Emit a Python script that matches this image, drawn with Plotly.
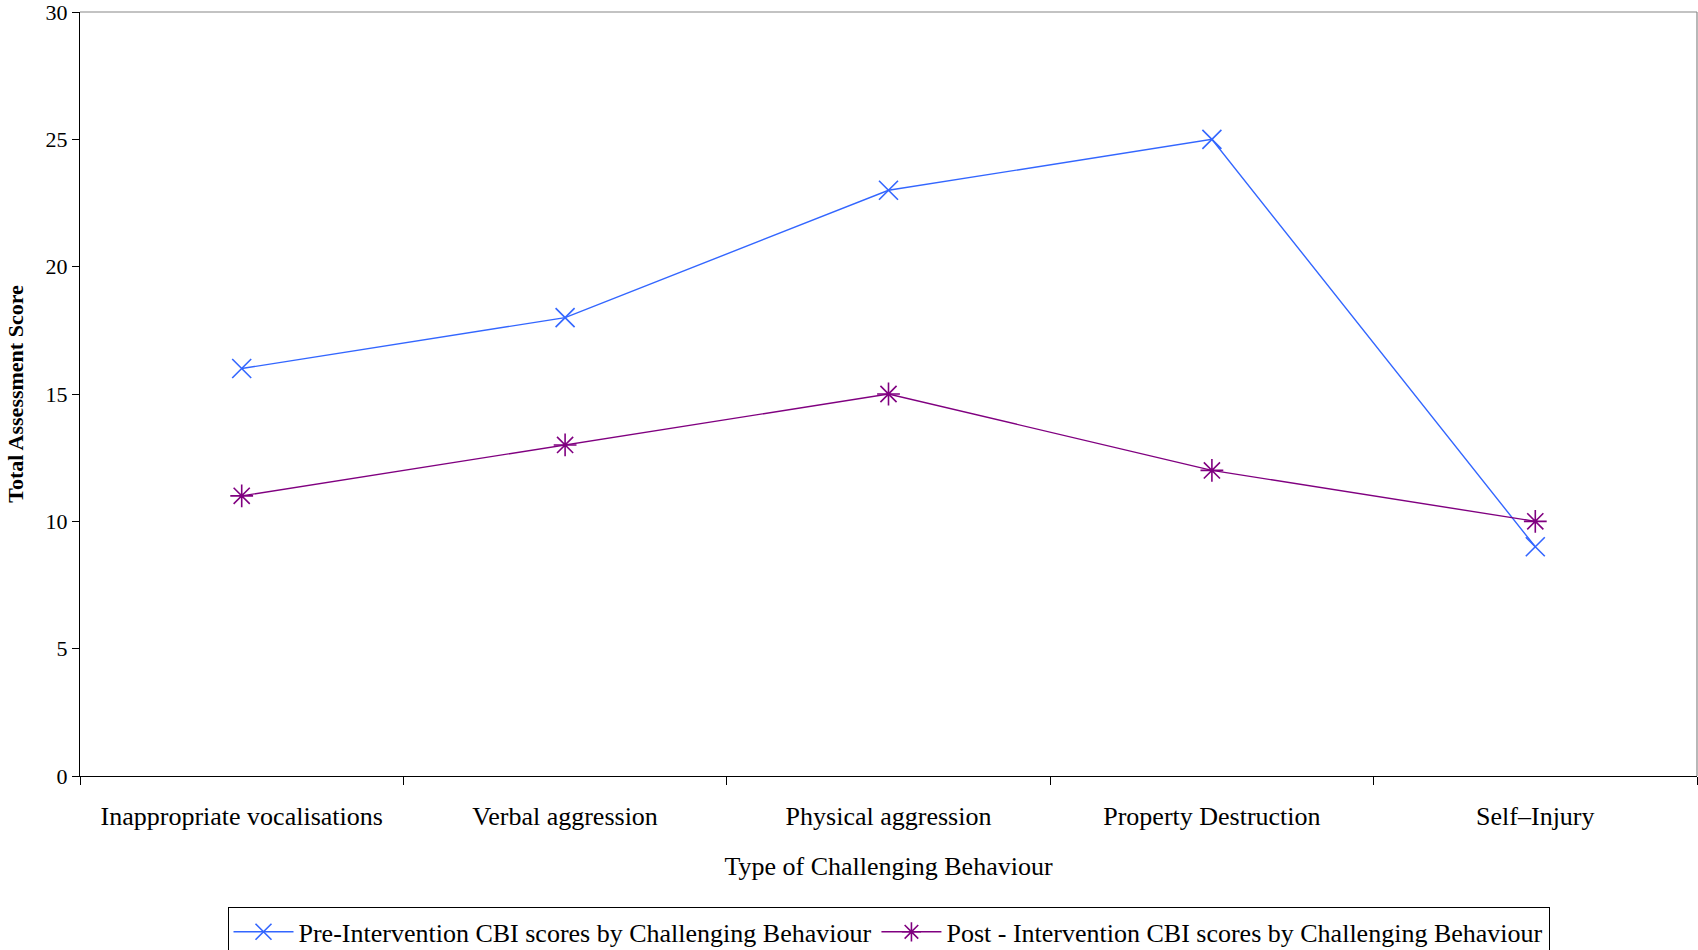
import plotly.graph_objects as go

categories = ["Inappropriate vocalisations", "Verbal aggression", "Physical aggression",
              "Property Destruction", "Self\u2013Injury"]
pre_scores = [16, 18, 23, 25, 9]
post_scores = [11, 13, 15, 12, 10]
pre_name = "Pre-Intervention CBI scores by Challenging Behaviour"
post_name = "Post - Intervention CBI scores by Challenging Behaviour"

FONT = "Liberation Serif, Times New Roman, serif"

fig = go.Figure()
fig.add_trace(go.Scatter(
    x=categories, y=pre_scores, name=pre_name, mode="lines+markers",
    line=dict(color="#3366FF", width=1.4),
    marker=dict(symbol="x-thin", size=19, line=dict(color="#3366FF", width=1.6)),
))
fig.add_trace(go.Scatter(
    x=categories, y=post_scores, name=post_name, mode="lines+markers",
    line=dict(color="#800080", width=1.4),
    marker=dict(symbol="asterisk-open", size=19, line=dict(color="#800080", width=1.6)),
))

fig.update_layout(
    width=1698, height=950,
    paper_bgcolor="white", plot_bgcolor="white",
    margin=dict(l=80, r=1, t=12, b=174, autoexpand=False),
    font=dict(family=FONT, size=26, color="black"),
    showlegend=True,
    legend=dict(
        orientation="h", x=0.5, xanchor="center", y=-0.172, yanchor="top",
        bordercolor="black", borderwidth=1, font=dict(size=26, family=FONT),
        itemwidth=60, tracegroupgap=0,
    ),
    shapes=[
        dict(type="line", xref="paper", yref="paper", x0=0, x1=1, y0=1, y1=1,
             line=dict(color="#888888", width=1.2), layer="below"),
        dict(type="line", xref="paper", yref="paper", x0=1, x1=1, y0=0, y1=1,
             line=dict(color="#888888", width=1.2), layer="below"),
    ],
)

fig.update_xaxes(
    type="category", range=[-0.5, 4.5], tickson="boundaries",
    showline=True, linecolor="black", linewidth=1.3,
    ticks="outside", ticklen=8, tickcolor="black", tickwidth=1.2,
    showgrid=False, zeroline=False, automargin=False,
    tickfont=dict(size=26, family=FONT), ticklabelstandoff=17,
    title=dict(text="Type of Challenging Behaviour", font=dict(size=26, family=FONT), standoff=26),
)
fig.update_yaxes(
    range=[0, 30], dtick=5, tick0=0,
    showline=True, linecolor="black", linewidth=1.3,
    ticks="outside", ticklen=7, tickcolor="black", tickwidth=1.2,
    showgrid=False, zeroline=False, automargin=False, ticklabeloverflow="allow",
    tickfont=dict(size=22, family=FONT),
    title=dict(text="<b>Total Assessment Score</b>", font=dict(size=22, family=FONT), standoff=15),
)

fig.write_html("out.html", config={"displayModeBar": False},
               post_script="document.body.style.margin='0';document.body.style.overflow='hidden';")
